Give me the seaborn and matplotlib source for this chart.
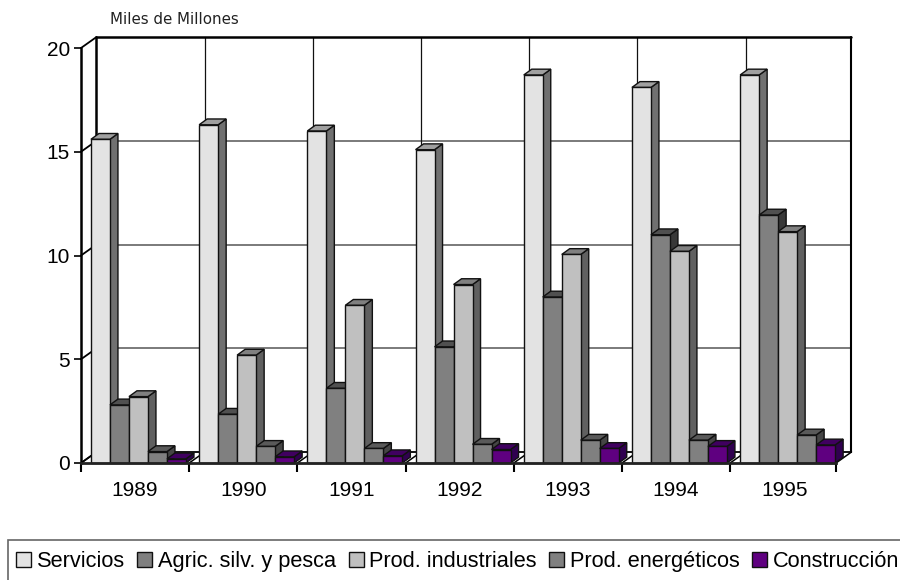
import pandas as pd
import seaborn as sns
import matplotlib.pyplot as plt
from matplotlib.patches import Rectangle

years = ["1989", "1990", "1991", "1992", "1993", "1994", "1995"]
servicios = [15.6, 16.3, 16.0, 15.1, 18.7, 18.1, 18.7]
agric = [2.8, 2.35, 3.6, 5.6, 8.0, 11.0, 11.95]
industriales = [3.2, 5.2, 7.6, 8.6, 10.05, 10.2, 11.15]
energeticos = [0.55, 0.8, 0.7, 0.9, 1.1, 1.1, 1.35]
construccion = [0.2, 0.3, 0.35, 0.65, 0.7, 0.8, 0.87]

names = ["Servicios", "Agric. silv. y pesca", "Prod. industriales", "Prod. energéticos", "Construcción"]
series = [servicios, agric, industriales, energeticos, construccion]
faces = ["#e3e3e3", "#808080", "#c0c0c0", "#808080", "#5f0080"]
tops = ["#a0a0a0", "#505050", "#808080", "#5a5a5a", "#400060"]
sides = ["#707070", "#383838", "#606060", "#454545", "#300050"]

rows = []
for name, vals in zip(names, series):
    for y, v in zip(years, vals):
        rows.append({"year": y, "value": v, "serie": name})
df = pd.DataFrame(rows)

sns.set_theme(style="white")
plt.rcParams["font.family"] = ["Liberation Sans", "DejaVu Sans"]

fig = plt.figure(figsize=(9, 5.8), dpi=100)
ax = fig.add_axes([81 / 900, 1 - 463 / 580, 755 / 900, 415 / 580])

sns.barplot(data=df, x="year", y="value", hue="serie", palette=faces, saturation=1,
            width=0.878, gap=0, edgecolor="#111111", linewidth=1.0, ax=ax)

xl, xr = -0.531, 6.447
ax.set_xlim(xl, xr)
ax.set_ylim(0, 20)
ax.set_xlabel("")
ax.set_ylabel("")

# depth of the fake 3d box and of the bars, in data units
wall_dx, wall_dy = 15.5 / 108.2, 11 / 20.75
bar_dx, bar_dy = 8 / 108.2, 5.8 / 20.75

# back wall
for v in [5, 10, 15]:
    ax.plot([xl + wall_dx, xr + wall_dx], [v + wall_dy, v + wall_dy], color="#707070", lw=1.3, clip_on=False, zorder=1)
for k in range(1, 7):
    ax.plot([xl + k + wall_dx] * 2, [wall_dy, 20 + wall_dy], color="#111111", lw=0.9, clip_on=False, zorder=1)
ax.plot([xl + wall_dx, xr + wall_dx], [20 + wall_dy] * 2, color="black", lw=1.8, clip_on=False, zorder=1)
ax.plot([xl + wall_dx, xr + wall_dx], [wall_dy] * 2, color="black", lw=1.3, clip_on=False, zorder=1)
ax.plot([xl + wall_dx] * 2, [0 + wall_dy, 20 + wall_dy], color="black", lw=1.8, clip_on=False, zorder=1)
ax.plot([xr + wall_dx] * 2, [0 + wall_dy, 20 + wall_dy], color="black", lw=1.5, clip_on=False, zorder=1)
for v in [0, 5, 10, 15, 20]:
    ax.plot([xl, xl + wall_dx], [v, v + wall_dy], color="black", lw=1.3, clip_on=False, zorder=1)
for k in range(0, 8):
    xb = min(xl + k, xr)
    ax.plot([xb, xb + wall_dx], [0, wall_dy], color="black", lw=1.1, clip_on=False, zorder=1)

# side and top faces from each bar
for j, cont in enumerate(ax.containers):
    for p in cont:
        x0 = p.get_x()
        x1 = x0 + p.get_width()
        h = p.get_height()
        ax.fill([x1, x1 + bar_dx, x1 + bar_dx, x1], [0, bar_dy, h + bar_dy, h],
                facecolor=sides[j], edgecolor="#111111", lw=1.0, zorder=3 + j, clip_on=False)
        ax.fill([x0, x1, x1 + bar_dx, x0 + bar_dx], [h, h, h + bar_dy, h + bar_dy],
                facecolor=tops[j], edgecolor="#111111", lw=1.0, zorder=3 + j, clip_on=False)
        p.set_zorder(3.5 + j)
        p.set_clip_on(False)

sns.despine(ax=ax, top=True, right=True)
ax.spines["left"].set_linewidth(1.8)
ax.spines["left"].set_color("black")
ax.spines["bottom"].set_linewidth(2)
ax.spines["bottom"].set_color("#222222")
ax.spines["bottom"].set_zorder(9)

ax.set_yticks([0, 5, 10, 15, 20])
ax.tick_params(axis="y", left=True, length=5, width=1.2, color="black", labelsize=15, pad=3, labelcolor="black")
ax.set_xticks([i - 0.032 for i in range(7)], labels=years)
ax.set_xticks([xl + k for k in range(7)] + [xr], minor=True)
ax.tick_params(axis="x", which="major", bottom=False, length=0, labelsize=15, pad=13, labelcolor="black")
ax.tick_params(axis="x", which="minor", bottom=True, length=6.5, width=1.5, color="black")

fig.text(110 / 900, 1 - 19 / 580, "Miles de Millones", family="DejaVu Sans", fontsize=10.8, color="#222222", va="center")

# legend box runs off the bottom and right of the picture
fig.add_artist(Rectangle((8 / 900, -0.02), 1, 1 - 540 / 580 + 0.02, transform=fig.transFigure,
                         facecolor="none", edgecolor="#666666", lw=1.2))
ax.legend(loc="center left", bbox_to_anchor=(16 / 900, 1 - 561.5 / 580), bbox_transform=fig.transFigure,
          ncol=5, fontsize=15.7, title=None, frameon=False, borderaxespad=0, borderpad=0,
          handlelength=0.69, handleheight=0.69, handletextpad=0.25, columnspacing=0.58, labelcolor="black")

fig.savefig("out.png", dpi=100)
